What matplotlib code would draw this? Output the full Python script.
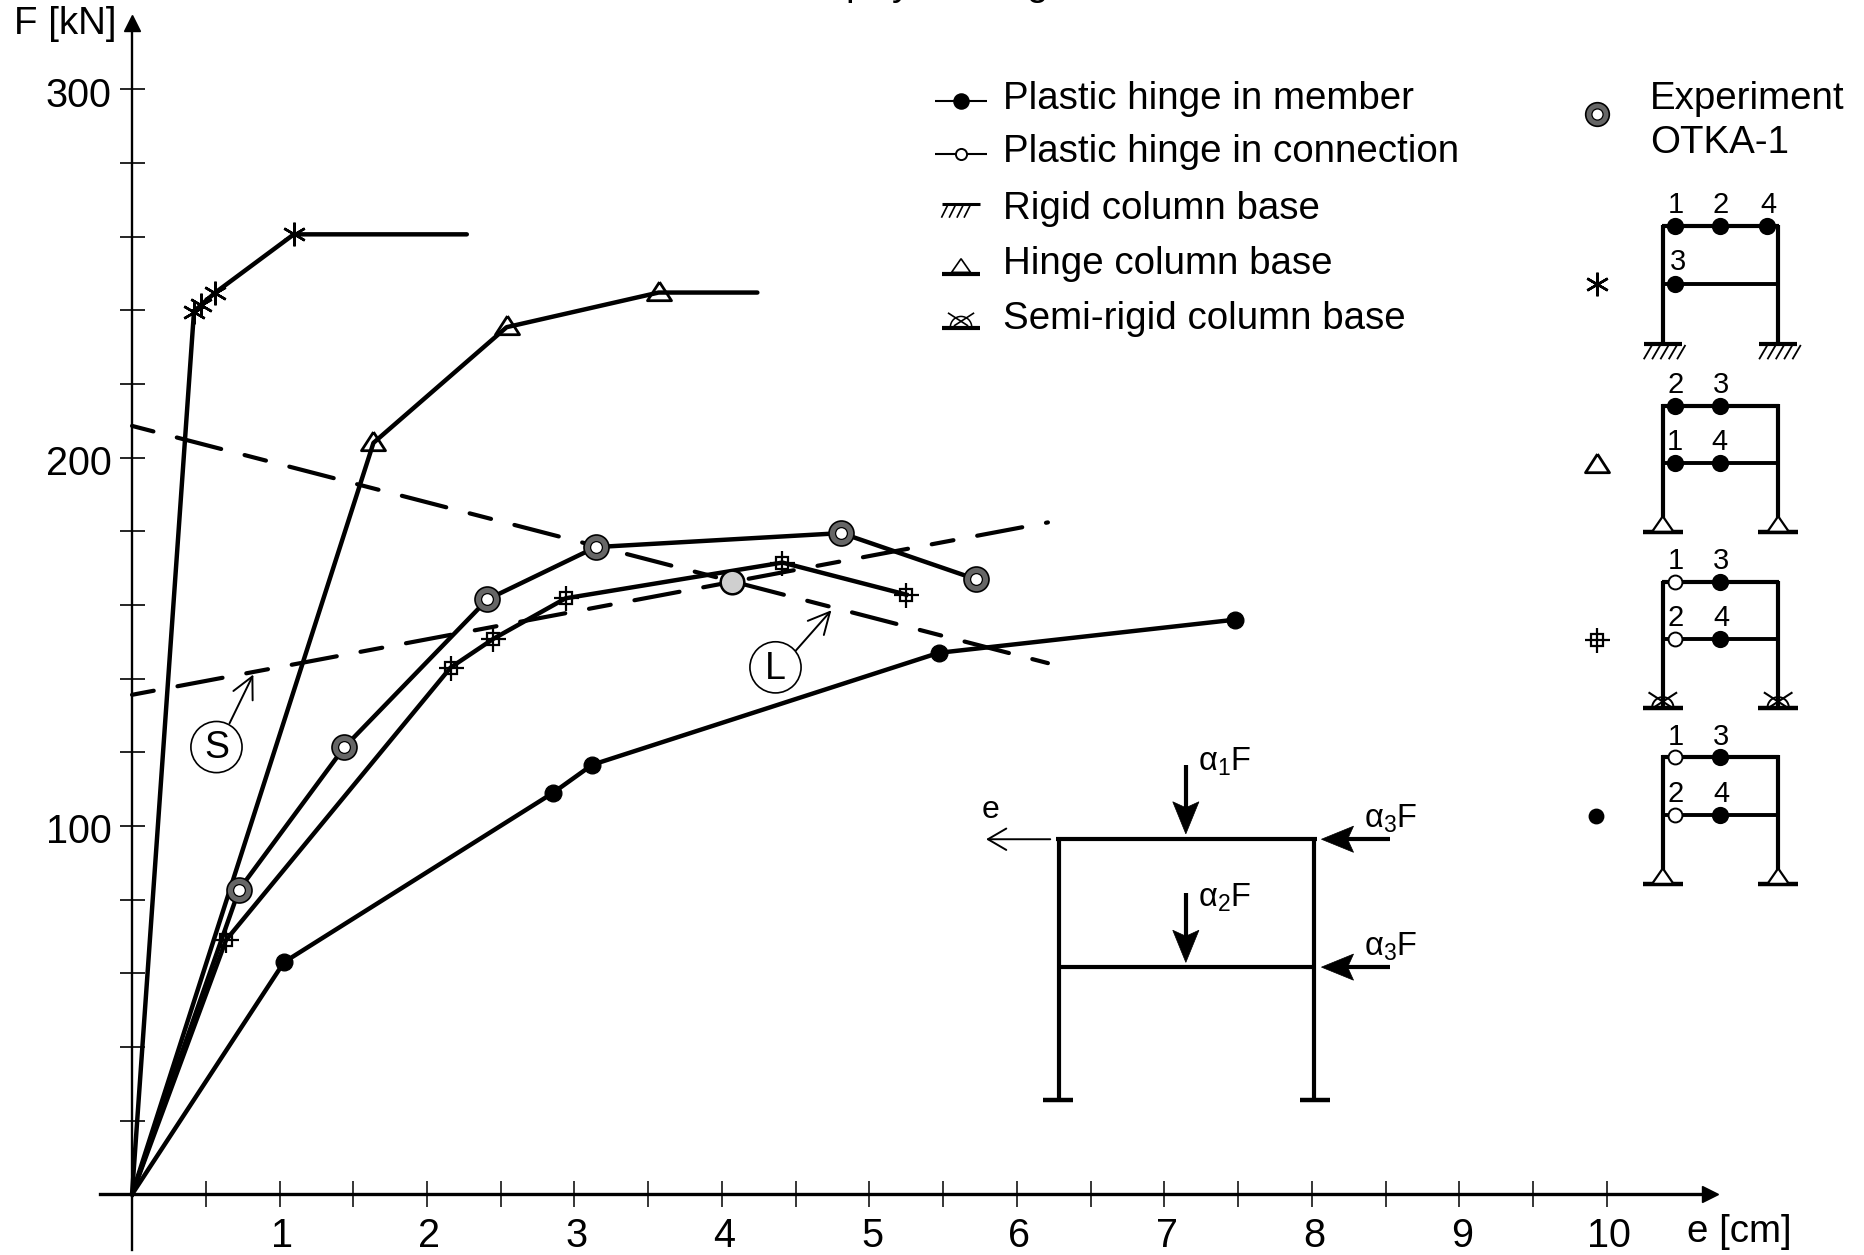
import matplotlib
matplotlib.use('Agg')
import matplotlib.pyplot as plt
from matplotlib.patches import Circle, Polygon, Arc
from matplotlib.transforms import ScaledTranslation

plt.rcParams['font.family'] = ['Liberation Sans', 'DejaVu Sans']
plt.rcParams['mathtext.fontset'] = 'custom'
plt.rcParams['mathtext.rm'] = 'Liberation Sans'
plt.rcParams['mathtext.it'] = 'Liberation Sans:italic'

# curves, e [cm] and F [kN]
star_e = [0, 0.42, 0.47, 0.565, 1.097, 2.27]
star_f = [0, 239.6, 241.5, 244.8, 260.6, 260.6]
tri_e = [0, 1.637, 2.54, 3.57, 4.24]
tri_f = [0, 204, 235.4, 244.8, 244.8]
exp_e = [0, 0.726, 1.44, 2.41, 3.145, 4.81, 5.72]
exp_f = [0, 82.7, 121.4, 161.5, 175.7, 179.5, 167]
exp_single_e = [4.07]
exp_single_f = [166.3]
cross_e = [0, 0.637, 2.16, 2.45, 2.94, 4.41, 5.25]
cross_f = [0, 69, 143, 150.8, 161.8, 171.5, 162.8]
dot_e = [0, 1.03, 2.855, 3.12, 5.47, 7.48]
dot_f = [0, 63, 109, 116.6, 147, 156]
limit_l_e = [0, 6.21]
limit_l_f = [208.6, 144.2]
limit_s_e = [0, 6.21]
limit_s_f = [135.6, 182.4]

x_ticks = [0.5 * i for i in range(1, 21)]
x_labels = [1, 2, 3, 4, 5, 6, 7, 8, 9, 10]
y_ticks = [20 * i for i in range(1, 16)]
y_labels = [100, 200, 300]

legend_text = ['Plastic hinge in member', 'Plastic hinge in connection',
               'Rigid column base', 'Hinge column base', 'Semi-rigid column base']

W, H = 1568, 1055
X0, Y0 = 111, 1004
PX_E, PX_F = 124, 3.0967
FS = 27.7

fig = plt.figure(figsize=(18.65, 12.55), dpi=100)
ax = fig.add_axes([0, 0, 1, 1])
ax.set_xlim(-X0 / PX_E, (W - X0) / PX_E)
ax.set_ylim((Y0 - H) / PX_F, Y0 / PX_F)
ax.patch.set_visible(False)

for s in ['top', 'right']:
    ax.spines[s].set_visible(False)
ax.spines['left'].set_position(('data', 0))
ax.spines['bottom'].set_position(('data', 0))
ax.spines['left'].set_bounds(-15, 318)
ax.spines['bottom'].set_bounds(-0.22, 10.7)
ax.spines['left'].set_linewidth(1.7)
ax.spines['bottom'].set_linewidth(2.4)

ax.set_xticks(x_ticks)
ax.set_xticklabels([str(int(t)) if t in x_labels else '' for t in x_ticks])
ax.set_yticks(y_ticks)
ax.set_yticklabels([str(t) if t in y_labels else '' for t in y_ticks])
ax.tick_params(axis='x', direction='inout', length=19, width=1.1, labelsize=28.5, pad=7)
ax.tick_params(axis='y', direction='inout', length=18, width=1.2, labelsize=28.5, pad=5.6)
for lab in ax.get_xticklabels():
    lab.set_transform(lab.get_transform() + ScaledTranslation(2.5 / 100, 0, fig.dpi_scale_trans))
for lab in ax.get_yticklabels():
    lab.set_transform(lab.get_transform() + ScaledTranslation(0, -2.4 / 100, fig.dpi_scale_trans))

# axis arrow heads
ax.plot([0], [318], marker='^', ms=12, color='k', clip_on=False)
ax.plot([10.7], [0], marker='>', ms=12, color='k', clip_on=False)

LW = 3.2
TRI = [(0, 0.95), (-1, -0.6), (1, -0.6), (0, 0.95)]
DASH = (5.3, 5.8, 11, 5.8)


def asterisk(a, x, y, ms=17):
    a.plot(x, y, ls='none', marker=(6, 2, 0), ms=ms, mew=1.8, color='k')


def triangle(a, x, y, ms=17.3):
    a.plot(x, y, ls='none', marker=TRI, ms=ms, mfc='none', mec='k', mew=2)


def boxcross(a, x, y):
    a.plot(x, y, ls='none', marker='s', ms=8.5, mfc='none', mec='k', mew=1.6)
    a.plot(x, y, ls='none', marker='+', ms=18, mec='k', mew=1.6)


def ring(a, x, y, ms=18):
    a.plot(x, y, ls='none', marker='o', ms=ms, mfc='#666666', mec='k', mew=1.2, zorder=6)
    a.plot(x, y, ls='none', marker='o', ms=ms * 0.47, mfc='white', mec='k', mew=0.9, zorder=7)


ax.plot(limit_l_e, limit_l_f, color='k', lw=3, dashes=DASH, dash_capstyle='round')
ax.plot(limit_s_e, limit_s_f, color='k', lw=3, dashes=DASH, dash_capstyle='round')

ax.plot(star_e, star_f, color='k', lw=LW, solid_capstyle='round')
asterisk(ax, star_e[1:-1], star_f[1:-1])
ax.plot(tri_e, tri_f, color='k', lw=LW, solid_capstyle='round')
triangle(ax, tri_e[1:-1], tri_f[1:-1])
ax.plot(exp_e, exp_f, color='k', lw=LW)
ring(ax, exp_e[1:], exp_f[1:])
ax.plot(exp_single_e, exp_single_f, ls='none', marker='o', ms=17, mfc='#cfcfcf', mec='k', mew=1.8, zorder=6)
ax.plot(cross_e, cross_f, color='k', lw=LW)
boxcross(ax, cross_e[1:], cross_f[1:])
ax.plot(dot_e, dot_f, color='k', lw=LW, marker='o', ms=12, markevery=list(range(1, len(dot_e))))

# overlay in image pixels for the sketches, the legend and the notes
sk = fig.add_axes([0, 0, 1, 1])
sk.set_xlim(0, W)
sk.set_ylim(H, 0)
sk.axis('off')


def line(xs, ys, lw=3, **kw):
    sk.plot(xs, ys, color='k', lw=lw, solid_capstyle=kw.pop('cap', 'butt'), **kw)


def hinge(x, y, filled=True, ms=11):
    sk.plot(x, y, marker='o', ms=ms, mfc='k' if filled else 'white', mec='k', mew=1.4, zorder=5)


def base_rigid(x, y, half=16):
    line([x - half, x + half], [y, y], lw=3)
    for i in range(5):
        dx = x - half + 3 + i * 7
        line([dx + 4, dx - 3], [y + 1, y + 13], lw=1.3)


def base_hinge(x, y, half=17):
    line([x - half, x + half], [y, y], lw=3.2)
    sk.add_patch(Polygon([[x, y - 13], [x - 9, y], [x + 9, y]], closed=True, fc='white', ec='k', lw=1.6, zorder=4))


def base_semi(x, y, half=17):
    line([x - half, x + half], [y, y], lw=3.2)
    sk.add_patch(Arc((x, y), 18, 18, theta1=180, theta2=360, ec='k', lw=1.4))
    line([x - 12, x + 8], [y - 13, y], lw=1.5)
    line([x + 12, x - 8], [y - 13, y], lw=1.5)


def frame(top, mid, bottom, base):
    line([1398, 1398], [top - 1, bottom], lw=3)
    line([1495, 1495], [top - 1, bottom], lw=3)
    line([1397, 1496], [top, top], lw=3)
    line([1398, 1495], [mid, mid], lw=2.8)
    base(1398, bottom)
    base(1495, bottom)


def num(x, y, s):
    sk.text(x, y + 1.5, s, fontsize=21, ha='center', va='center')


# sketch 1
frame(190, 239, 289, base_rigid)
for hx, n in zip([1408, 1446, 1486], '124'):
    hinge(hx, 190)
    num(hx + 1, 171, n)
hinge(1408, 239)
num(1411, 219, '3')

# sketch 2
frame(341, 389, 447, base_hinge)
for hx, a, b in zip([1408, 1446], '23', '14'):
    hinge(hx, 341)
    hinge(hx, 389)
    num(hx + 1, 322, a)
    num(hx, 370, b)

# sketch 3
frame(489, 537, 595, base_semi)
for hx, a, b, fl in zip([1408, 1446], '13', '24', [False, True]):
    hinge(hx, 489, fl, 11 if fl else 10)
    hinge(hx, 537, fl, 11 if fl else 10)
    num(hx + 1, 470, a)
    num(hx + 1, 518, b)

# sketch 4
frame(636, 685, 743, base_hinge)
for hx, a, b, fl in zip([1408, 1446], '13', '24', [False, True]):
    hinge(hx, 636, fl, 11 if fl else 10)
    hinge(hx, 685, fl, 11 if fl else 10)
    num(hx + 1, 618, a)
    num(hx + 1, 666, b)

# symbols beside the sketches
ring(sk, [1343], [96], 17)
asterisk(sk, [1343], [239], 17)
triangle(sk, [1343], [391])
boxcross(sk, [1343], [538])
hinge(1342, 686, True, 10)

sk.text(1387, 83, 'Experiment', fontsize=FS, va='center')
sk.text(1387, 120, 'OTKA-1', fontsize=FS, va='center')

# legend
legend_y = [83, 128, 176, 222, 268]
for yy, t in zip(legend_y, legend_text):
    sk.text(843, yy, t, fontsize=FS, va='center')
line([786, 830], [84.5, 84.5], lw=1.5)
hinge(808, 84.5, True, 10.5)
line([786, 830], [129.5, 129.5], lw=1.5)
hinge(808, 129.5, False, 8)
line([792, 824], [171.5, 171.5], lw=2.2)
for tx in [797, 803.5, 810, 816]:
    line([tx, tx - 5.5], [172, 183], lw=1.2)
line([792, 824], [230, 230], lw=3)
sk.add_patch(Polygon([[808, 217.5], [800, 229], [816, 229]], closed=True, fc='none', ec='k', lw=1.2))
line([792, 824], [275.5, 275.5], lw=3)
sk.add_patch(Arc((808, 275), 18, 18, theta1=180, theta2=360, ec='k', lw=1.1))
line([797, 814], [263, 274], lw=1.2)
line([819, 802], [263, 274], lw=1.2)

# loaded frame
line([890, 890], [705, 925], lw=3)
line([1105, 1105], [705, 925], lw=3)
line([888, 1107], [705.5, 705.5], lw=3)
line([890, 1105], [813, 813], lw=3)
line([877, 902], [925, 925], lw=3.2)
line([1093, 1118], [925, 925], lw=3.2)


def load(x0, y0, x1, y1):
    # shaft plus a notched solid head
    dx = (x1 > x0) - (x1 < x0)
    dy = (y1 > y0) - (y1 < y0)
    line([x0, x1 - dx * 20], [y0, y1 - dy * 20], lw=3)
    sk.add_patch(Polygon([[x1, y1],
                          [x1 - dx * 27 - dy * 11, y1 - dy * 27 - dx * 11],
                          [x1 - dx * 22, y1 - dy * 22],
                          [x1 - dx * 27 + dy * 11, y1 - dy * 27 + dx * 11]],
                         closed=True, fc='k', ec='k', lw=0.5))


load(997, 643, 997, 701)
load(997, 751, 997, 809)
load(1169, 705.5, 1111, 705.5)
load(1169, 813, 1111, 813)
sk.annotate('', xy=(829, 705.5), xytext=(883, 705.5),
            arrowprops=dict(arrowstyle='->,head_length=0.6,head_width=0.35', color='k', lw=1.4,
                            shrinkA=0, shrinkB=0, mutation_scale=22))
sk.text(833, 681, 'e', fontsize=23, ha='center', va='center')
for tx, ty, n in [(1007, 640, 1), (1007, 755, 2), (1147, 688, 3), (1147, 796, 3)]:
    sk.text(tx, ty, r'$\mathregular{α_{%d}}$F' % n, fontsize=23.5, va='center')

# S and L notes
for cx, cy, s, tip, tail in [(182, 628, 'S', (213, 567), (193, 608)), (652, 561, 'L', (699, 513), (669, 547))]:
    sk.add_patch(Circle((cx, cy), 21.5, fc='white', ec='k', lw=1.2, zorder=5))
    sk.text(cx, cy + 1, s, fontsize=27, ha='center', va='center', zorder=6)
    sk.annotate('', xy=tip, xytext=tail,
                arrowprops=dict(arrowstyle='->,head_length=0.7,head_width=0.35', color='k', lw=1.4,
                                shrinkA=0, shrinkB=0, mutation_scale=22))

# axis names
sk.text(12, 20, 'F [kN]', fontsize=FS, va='center')
sk.text(1418, 1036, 'e [cm]', fontsize=FS, va='center')

# bottoms of the title letters, cut off by the top edge as in the reference
for tx, s in [(720, 'p'), (758, 'y'), (872, 'g')]:
    sk.text(tx, -4.5, s, fontsize=FS, ha='center', va='baseline')

fig.savefig('out.png', dpi=100)
